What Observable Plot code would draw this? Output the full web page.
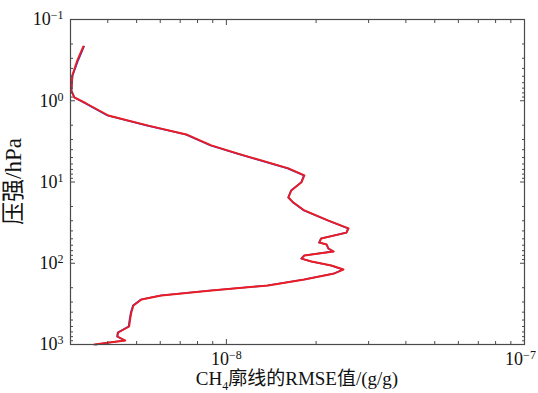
<!DOCTYPE html>
<html><head><meta charset="utf-8">
<script src="https://cdn.jsdelivr.net/npm/d3@7"></script>
<script src="https://cdn.jsdelivr.net/npm/@observablehq/plot@0.6"></script>
<style>
html,body{margin:0;padding:0;background:#fff;}
#chart{width:538px;height:393px;}
</style></head><body><div id="chart"></div>
<script>
// pressure levels (hPa)
const pressure = [0.215, 0.32, 0.49, 0.75, 0.91, 1.08, 1.52, 2.02, 2.6, 3.55, 4.5, 6.8, 8.3, 10.1, 12.7, 15.5, 17.9, 22.4, 29.8, 37.3, 41.9, 49.6, 55.6, 58.8, 65.8, 71.6, 80.3, 87.5, 95.1, 106.6, 119.4, 133.7, 158.5, 187.9, 216.5, 249.4, 279.3, 331, 404, 479, 600, 711, 797, 893, 945, 1000];
// CH4 profile RMSE (g/g), red series
const rmseRed = [3.31e-9, 3.16e-9, 3.04e-9, 3.02e-9, 3.09e-9, 3.39e-9, 4.02e-9, 5.47e-9, 7.34e-9, 8.9e-9, 11.0e-9, 16.15e-9, 18.27e-9, 17.86e-9, 16.52e-9, 16.15e-9, 16.79e-9, 18.27e-9, 22.0e-9, 25.7e-9, 25.3e-9, 20.8e-9, 20.5e-9, 21.7e-9, 22.0e-9, 22.9e-9, 18.27e-9, 17.86e-9, 19.3e-9, 22.5e-9, 24.7e-9, 23.0e-9, 18.27e-9, 13.8e-9, 8.91e-9, 6.05e-9, 5.19e-9, 4.88e-9, 4.80e-9, 4.76e-9, 4.72e-9, 4.34e-9, 4.31e-9, 4.58e-9, 4.05e-9, 3.61e-9];
// blue series (nearly identical)
const rmseBlue = [3.33e-9, 3.18e-9, 3.05e-9, 3.02e-9, 3.09e-9, 3.37e-9, 3.99e-9, 5.43e-9, 7.30e-9, 8.85e-9, 10.94e-9, 16.05e-9, 18.2e-9, 17.82e-9, 16.48e-9, 16.12e-9, 16.74e-9, 18.2e-9, 21.9e-9, 25.6e-9, 25.25e-9, 20.75e-9, 20.45e-9, 21.65e-9, 21.95e-9, 22.85e-9, 18.22e-9, 17.83e-9, 19.25e-9, 22.4e-9, 24.6e-9, 22.95e-9, 18.2e-9, 13.7e-9, 8.85e-9, 6.01e-9, 5.17e-9, 4.86e-9, 4.78e-9, 4.74e-9, 4.70e-9, 4.32e-9, 4.30e-9, 4.56e-9, 4.05e-9, 3.66e-9];

const xMajorTicks = [1e-8, 1e-7];
const xMinorTicks = [3e-9, 4e-9, 5e-9, 6e-9, 7e-9, 8e-9, 9e-9, 2e-8, 3e-8, 4e-8, 5e-8, 6e-8, 7e-8, 8e-8, 9e-8];
const yMajorTicks = [0.1, 1, 10, 100, 1000];
const yMinorTicks = [0.2,0.3,0.4,0.5,0.6,0.7,0.8,0.9, 2,3,4,5,6,7,8,9, 20,30,40,50,60,70,80,90, 200,300,400,500,600,700,800,900];
const xTitleParts = ["CH", "4", "廓线的RMSE值/(g/g)"];
const yTitle = "压强/hPa";

const red = pressure.map((p, i) => ({p, v: rmseRed[i]}));
const blue = pressure.map((p, i) => ({p, v: rmseBlue[i]}));
const expFmt = d => "10^" + Math.round(Math.log10(d));
const axisColor = "#4a4a4a";

const plot = Plot.plot({
  width: 538, height: 393,
  marginLeft: 70, marginRight: 14, marginTop: 19, marginBottom: 49,
  style: {fontFamily: '"Liberation Serif", "Noto Sans CJK SC", serif', background: "#fff", color: "#111", overflow: "visible"},
  x: {type: "log", domain: [3e-9, 1e-7], label: null},
  y: {type: "log", domain: [0.1, 1000], reverse: true, label: null},
  marks: [
    Plot.line(blue, {x: "v", y: "p", stroke: "#3438c0", strokeWidth: 1.7}),
    Plot.line(red, {x: "v", y: "p", stroke: "#ec1c24", strokeWidth: 1.9}),
    Plot.frame({stroke: axisColor, strokeWidth: 1.2}),
    Plot.axisX(xMinorTicks, {anchor: "bottom", tickSize: -3, tickFormat: () => "", stroke: axisColor, label: null}),
    Plot.axisX(xMinorTicks, {anchor: "top", tickSize: -3, tickFormat: () => "", stroke: axisColor, label: null}),
    Plot.axisX(xMajorTicks, {anchor: "bottom", tickSize: -5, tickFormat: () => "", stroke: axisColor, label: null}),
    Plot.axisX(xMajorTicks, {anchor: "top", tickSize: -5, tickFormat: () => "", stroke: axisColor, label: null}),
    Plot.axisX(xMajorTicks, {anchor: "bottom", tickSize: 0, tickPadding: 8, tickFormat: expFmt, fontSize: 18, label: null}),
    Plot.axisY(yMinorTicks, {anchor: "left", tickSize: -3, tickFormat: () => "", stroke: axisColor, label: null}),
    Plot.axisY(yMinorTicks, {anchor: "right", tickSize: -3, tickFormat: () => "", stroke: axisColor, label: null}),
    Plot.axisY(yMajorTicks, {anchor: "left", tickSize: -5, tickFormat: () => "", stroke: axisColor, label: null}),
    Plot.axisY(yMajorTicks, {anchor: "right", tickSize: -5, tickFormat: () => "", stroke: axisColor, label: null}),
    Plot.axisY(yMajorTicks, {anchor: "left", tickSize: 0, tickPadding: 7, tickFormat: expFmt, fontSize: 18, label: null})
  ]
});

const svg = d3.select(plot);
svg.selectAll('g[aria-label$="tick label"] text').each(function() {
  const t = this.textContent;
  const m = t.match(/^10\^(-?\d+)$/);
  if (m) {
    this.textContent = "";
    const s = d3.select(this).attr("font-size", 18).style("font-size", "18px");
    if (m[1] === "-7") s.attr("dx", -4);
    s.append("tspan").text("10");
    s.append("tspan").attr("dy", "-0.5em").style("font-size", "12px").text(m[1].replace("-", "\u2212"));
  }
});

const xr = plot.scale("x").range, yr = plot.scale("y").range;
const xt = svg.append("text")
  .attr("x", (xr[0] + xr[1]) / 2).attr("y", 385)
  .attr("text-anchor", "middle").style("font-size", "19px").attr("fill", "#111");
xt.append("tspan").text(xTitleParts[0]);
xt.append("tspan").attr("dy", 5).style("font-size", "12px").text(xTitleParts[1]);
xt.append("tspan").attr("dy", -5).text(xTitleParts[2]);

svg.append("text")
  .attr("transform", `translate(13,${(yr[0] + yr[1]) / 2}) rotate(-90)`)
  .attr("text-anchor", "middle").attr("dominant-baseline", "central")
  .style("font-size", "23px").attr("fill", "#111")
  .text(yTitle);

document.getElementById("chart").appendChild(plot);
</script></body></html>
